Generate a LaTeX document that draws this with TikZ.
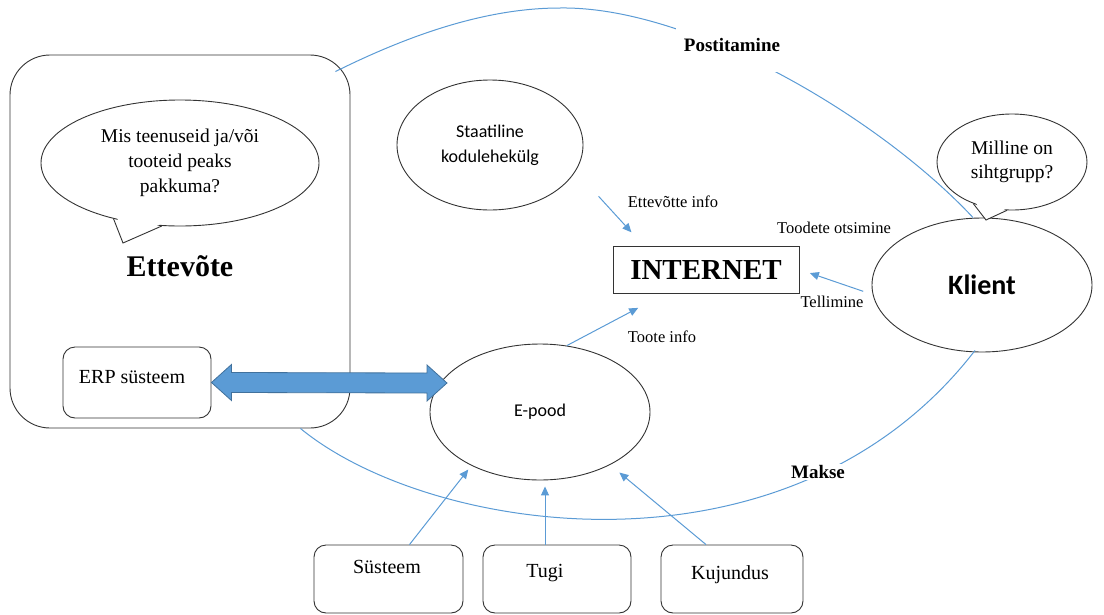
\documentclass[tikz,border=0pt]{standalone}
\usepackage{fontspec}
\setmainfont{Liberation Serif}
\newfontfamily\calibrifont{Carlito}
\usetikzlibrary{arrows.meta,shapes.geometric,calc}

\definecolor{linkblue}{RGB}{91,155,213}
\definecolor{linkedge}{RGB}{65,113,156}

\tikzset{
    outline/.style={draw=black!80, line width=0.9pt, fill=white},
    bubble/.style={outline, ellipse, inner sep=0pt, align=center},
    card/.style={outline, rectangle, rounded corners=12pt, inner sep=0pt},
    link/.style={draw=linkblue, line width=1pt, -{Triangle[length=9pt, width=8pt]}},
    route/.style={draw=linkblue, line width=1pt},
    body/.style={font=\fontsize{20}{25}\selectfont, align=center, inner sep=0pt},
    tag/.style={font=\fontsize{16.5}{20}\selectfont, inner sep=1pt},
    heading/.style={font=\bfseries\fontsize{19}{23}\selectfont, inner sep=1pt},
}

\begin{document}
\begin{tikzpicture}[x=1pt, y=-1pt]
    % \draw[black!20] (0, 0) grid[step=50] (1104, 614);
    \useasboundingbox (0, 0) rectangle (1104, 614);

    \node[outline, rectangle, rounded corners=40pt, minimum width=340, minimum height=373] (company) at (180, 241.5) {};
    \node[bubble, body, minimum width=278, minimum height=126, font=\fontsize{19.5}{25}\selectfont] (question) at (180, 163) {Mis teenuseid ja/või\\tooteid peaks\\pakkuma?};
    \coordinate (question-tip) at (123, 243);
    \fill[white] ($(question.center)!0.95!(question.220)$) -- (question-tip) -- ($(question.center)!0.95!(question.254)$) -- cycle;
    \draw[black!80, line width=0.9pt] (question.220) -- (question-tip) -- (question.254);
    \node[font=\bfseries\fontsize{30}{36}\selectfont] (company-label) at (180, 266) {Ettevõte};

    \node[card, minimum width=148, minimum height=71] (erp) at (137, 382.5) {};
    \node[body] (erp-label) at (132, 377) {ERP süsteem};

    \node[bubble, minimum width=186, minimum height=130, font=\calibrifont\fontsize{18}{25}\selectfont] (static) at (490, 145) {Staatiline\\kodulehekülg};
    \node[outline, rectangle, line width=0.8pt, minimum width=186, minimum height=47, inner sep=0pt, font=\bfseries\fontsize{29}{34}\selectfont] (www) at (706, 269.5) {INTERNET};
    \node[bubble, minimum width=220, minimum height=136, font=\calibrifont\fontsize{18}{22}\selectfont] (shop) at (540, 412) {E-pood};

    \node[bubble, minimum width=220, minimum height=134, font=\calibrifont\bfseries\fontsize{28}{34}\selectfont] (client) at (982, 285) {Klient};
    \node[bubble, minimum width=150, minimum height=96, font=\fontsize{19.5}{24}\selectfont] (target) at (1012, 162) {Milline on\\sihtgrupp?};
    \coordinate (target-tip) at (986, 220);
    \fill[white] ($(target.center)!0.95!(target.227)$) -- (target-tip) -- ($(target.center)!0.95!(target.264)$) -- cycle;
    \draw[black!80, line width=0.9pt] (target.227) -- (target-tip) -- (target.264);

    \node[card, minimum width=149, minimum height=68] (system) at (388.5, 579) {};
    \node[card, minimum width=148, minimum height=68] (support) at (557, 579) {};
    \node[card, minimum width=142, minimum height=68] (design) at (732, 579) {};
    \node[body] (system-label) at (387, 567) {Süsteem};
    \node[body] (support-label) at (545, 573) {Tugi};
    \node[body] (design-label) at (730, 575) {Kujundus};

    % erp <-> e-pood
    \coordinate (shop-tip) at (447, 383);
    \filldraw[fill=linkblue, draw=linkedge, line width=0.8pt] (erp.east) -- ++(20, -18) -- ++(0, 8) -- ($(shop-tip) + (-20, -10)$) -- ++(0, -8) -- (shop-tip) -- ++(-20, 18) -- ++(0, -8) -- ($(erp.east) + (20, 10)$) -- ++(0, 8) -- cycle;

    \coordinate (post-top) at (560, 8);
    \draw[route] ($(company.north east) + (-15, 17)$) .. controls (415, 32) and (490, 8) .. (post-top) .. controls (690, 6) and (878, 116) .. ($(client.north) + (-9, 0)$);
    \node[heading, fill=white, minimum width=112, minimum height=54] (post) at (732, 45) {Postitamine};
    \draw[route] ($(company.south east) + (-50, 0)$) .. controls (430, 535) and (790, 590) .. ($(client.south) + (-7, -2)$);
    \node[heading, fill=white] (pay) at (818, 472) {Makse};

    \draw[link, shorten <=34pt, shorten >=18pt] (static.-17) -- ($(www.north west) + (31, 0)$);
    \node[tag] (info-company) at (673, 202) {Ettevõtte info};
    \draw[link, shorten <=10pt, shorten >=11pt] (client.185) -- (www.east);
    \node[tag] (search) at (834, 228) {Toodete otsimine};
    \node[tag] (order) at (832, 302) {Tellimine};
    \draw[link, shorten >=31pt] (shop.68) -- ($(www.south west) + (53, 0)$);
    \node[tag] (info-product) at (662, 337) {Toote info};

    \draw[link, shorten >=5pt] ($(system.north) + (21, 0)$) -- (shop.218);
    \draw[link, shorten >=6pt] ($(support.north) + (-12, 0)$) -- ($(shop.south) + (5, 0)$);
    \draw[link, shorten >=12pt] ($(design.north) + (-26, 0)$) -- (shop.-37);
\end{tikzpicture}
\end{document}
